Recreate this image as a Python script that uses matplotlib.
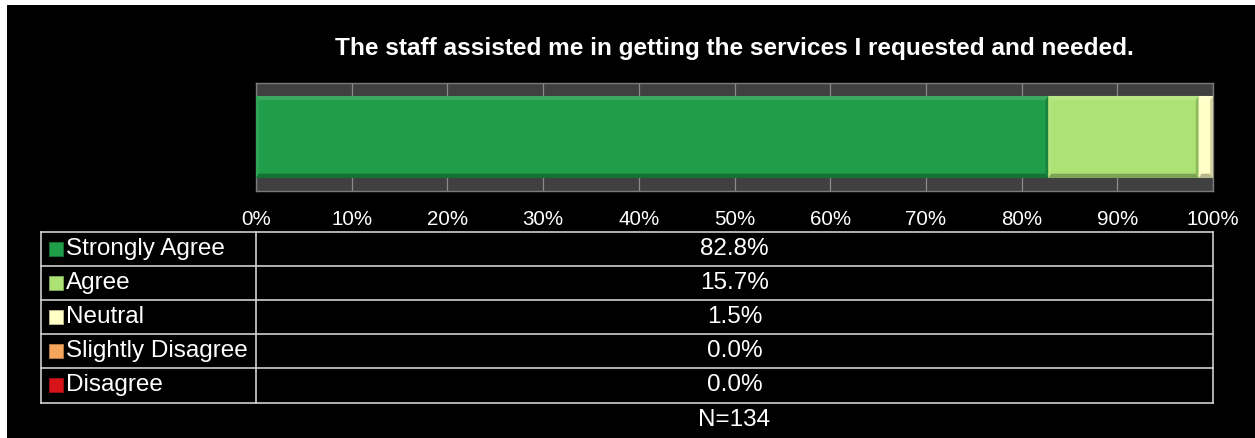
import numpy as np
import matplotlib
matplotlib.use("Agg")
import matplotlib.pyplot as plt
from matplotlib.patches import Rectangle, Polygon
from matplotlib.colors import to_rgb

plt.rcParams['font.family'] = ['Liberation Sans', 'DejaVu Sans']

title = "The staff assisted me in getting the services I requested and needed."
categories = ["Strongly Agree", "Agree", "Neutral", "Slightly Disagree", "Disagree"]
percents = [82.8, 15.7, 1.5, 0.0, 0.0]
colors = ["#1F9D48", "#ADE374", "#FFFFC6", "#F5A55C", "#D8141B"]
n_label = "N=134"
ticks = np.arange(0, 101, 10)

W, H = 1255, 438
fig = plt.figure(figsize=(W / 100, H / 100), dpi=100, facecolor="white")
# black panel, leaving a thin white margin top and left
fig.patches.append(Rectangle((7 / W, 0), 1 - 7 / W, 1 - 5 / H, transform=fig.transFigure,
                             facecolor="black", edgecolor="none", zorder=-1))


def shade(c, f):
    r, g, b = to_rgb(c)
    if f < 1:
        return (r * f, g * f, b * f)
    return tuple(min(1, v + (1 - v) * (f - 1)) for v in (r, g, b))


def bevel_bar(ax, left, width, y0, h, color, dx, dy):
    x0, x1, y1 = left, left + width, y0 + h
    ax.add_patch(Rectangle((x0, y0), width, h, facecolor=color, edgecolor="none", zorder=3))
    # light top/left edges, dark bottom/right edges
    ax.add_patch(Polygon([(x0, y1), (x1, y1), (x1 - dx, y1 - dy), (x0 + dx, y1 - dy)],
                         closed=True, facecolor=shade(color, 1.12), edgecolor="none", zorder=4))
    ax.add_patch(Polygon([(x0, y0), (x0, y1), (x0 + dx, y1 - dy), (x0 + dx, y0 + dy)],
                         closed=True, facecolor=shade(color, 1.08), edgecolor="none", zorder=4))
    ax.add_patch(Polygon([(x0, y0), (x1, y0), (x1 - dx, y0 + dy), (x0 + dx, y0 + dy)],
                         closed=True, facecolor=shade(color, 0.72), edgecolor="none", zorder=4))
    ax.add_patch(Polygon([(x1, y0), (x1, y1), (x1 - dx, y1 - dy), (x1 - dx, y0 + dy)],
                         closed=True, facecolor=shade(color, 0.82), edgecolor="none", zorder=4))


# stacked bar
ax = fig.add_axes([256 / W, 1 - 191 / H, (1213 - 256) / W, (191 - 83) / H])
ax.set_facecolor("#404040")
ax.set_xlim(0, 100)
ax.set_ylim(-0.5, 0.5)
ax.set_xticks(ticks)
ax.set_xticklabels([f"{t}%" for t in ticks], color="white", fontsize=14.8)
ax.tick_params(axis="x", length=0, pad=13.5)
ax.set_yticks([])
ax.grid(axis="x", color="#8a8a8a", linewidth=0.9, zorder=1)
ax.set_axisbelow(True)
for s in ax.spines.values():
    s.set_color("#7a7a7a")
    s.set_linewidth(1.0)

bar_h = 0.76
left = 0.0
for p, c in zip(percents, colors):
    if p > 0:
        bevel_bar(ax, left, p, -bar_h / 2, bar_h, c, 0.3, 0.04)
    left += p

ax.set_title(title, color="white", fontsize=17.6, fontweight="bold", pad=20)

# data table underneath
label_w = (256 - 41) / 957 * 100
row_px = 34.2
nrows = len(categories)
tax = fig.add_axes([41 / W, 1 - (231.5 + row_px * (nrows + 1)) / H,
                    (1213 - 41) / W, row_px * (nrows + 1) / H])
tax.set_xlim(-label_w, 100)
tax.set_ylim(nrows + 1, 0)
tax.axis("off")

line_kw = dict(color="#cfcfcf", linewidth=1.2, clip_on=False)
for i in range(nrows + 1):
    tax.plot([-label_w, 100], [i, i], **line_kw)
tax.plot([-label_w, -label_w], [0, nrows], **line_kw)
tax.plot([0, 0], [0, nrows], **line_kw)
tax.plot([100, 100], [0, nrows], **line_kw)

mk_x = (55.5 - 256) / 957 * 100
txt_x = (66 - 256) / 957 * 100
for i, (cat, p, c) in enumerate(zip(categories, percents, colors)):
    yc = i + 0.5
    tax.scatter([mk_x], [yc], marker="s", s=95, color=c, edgecolors=shade(c, 0.75),
                linewidths=0.6, clip_on=False, zorder=3)
    tax.text(txt_x, yc, cat, color="white", fontsize=17.5, va="center", ha="left")
    tax.text(50, yc, f"{p:.1f}%", color="white", fontsize=17.5, va="center", ha="center")
tax.text(50, nrows + 0.5, n_label, color="white", fontsize=17.5, va="center", ha="center")

fig.savefig("out.png", dpi=100, facecolor=fig.get_facecolor())
